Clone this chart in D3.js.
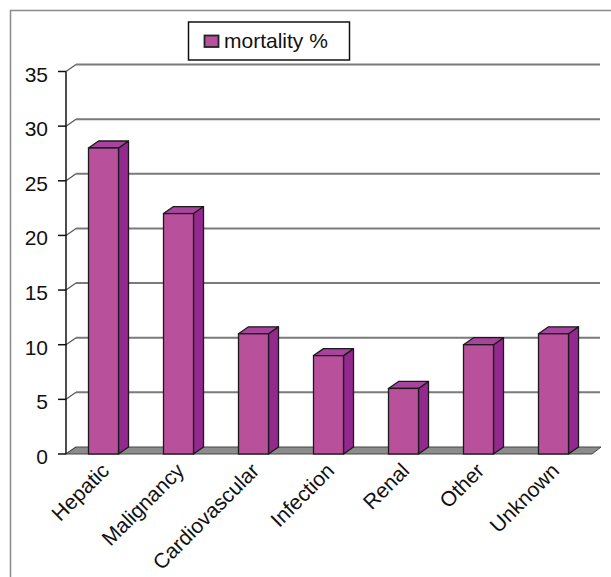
<!DOCTYPE html>
<html><head><meta charset="utf-8">
<script src="https://cdn.jsdelivr.net/npm/d3@7"></script>
<style>body{margin:0;background:#fff}svg{display:block}text{font-family:"Liberation Sans",Arial,sans-serif;fill:#111}</style>
</head><body>
<script>
const categories = ["Hepatic","Malignancy","Cardiovascular","Infection","Renal","Other","Unknown"];
const mortality = [28,22,11,9,6,10,11];
const yTicks = [0,5,10,15,20,25,30,35];
const seriesName = "mortality %";

const W=611,H=577;
const svg=d3.select("body").append("svg").attr("width",W).attr("height",H);
const DX=10, DY=-7;
const x=d3.scaleBand().domain(categories).range([66,591]).paddingInner(0.6).paddingOuter(0.3);
const y=d3.scaleLinear().domain([0,35]).range([454,71.5]);
const y0=y(0);

// outer frame
svg.append("path").attr("d","M10.5,577V10.5H611").attr("fill","none").attr("stroke","#8a8a8a").attr("stroke-width",1.5);

// gridlines + diagonal
yTicks.forEach(v=>{
  if(v>0){
    svg.append("line").attr("x1",66+DX).attr("x2",600).attr("y1",y(v)+DY).attr("y2",y(v)+DY)
      .attr("stroke","#7a7a7a").attr("stroke-width",2);
  }
  svg.append("line").attr("x1",66).attr("y1",y(v)).attr("x2",66+DX).attr("y2",y(v)+DY)
    .attr("stroke","#555").attr("stroke-width",1.2);
});

// floor
svg.append("polygon").attr("points",[[66,y0],[66+DX,y0+DY],[601,y0+DY],[592,y0]].join(" "))
  .attr("fill","#8c8c8c").attr("stroke","#444").attr("stroke-width",1);

// bars
const g=svg.append("g");
categories.forEach((c,i)=>{
  const bx=x(c),bw=x.bandwidth(),by=y(mortality[i]);
  g.append("polygon").attr("points",[[bx+bw,by],[bx+bw+DX,by+DY],[bx+bw+DX,y0+DY],[bx+bw,y0]].join(" "))
    .attr("fill","#93298f").attr("stroke","#1a1a1a").attr("stroke-width",1.3).attr("stroke-linejoin","round");
  g.append("polygon").attr("points",[[bx,by],[bx+DX,by+DY],[bx+bw+DX,by+DY],[bx+bw,by]].join(" "))
    .attr("fill","#a8449e").attr("stroke","#1a1a1a").attr("stroke-width",1.3).attr("stroke-linejoin","round");
  g.append("rect").attr("x",bx).attr("y",by).attr("width",bw).attr("height",y0-by)
    .attr("fill","#b8509c").attr("stroke","#1a1a1a").attr("stroke-width",1.3);
});

// axis
const axis=svg.append("g");
axis.append("line").attr("x1",66).attr("x2",66).attr("y1",y(35)).attr("y2",y0).attr("stroke","#111").attr("stroke-width",1.5);
yTicks.forEach(v=>{
  axis.append("line").attr("x1",58).attr("x2",66).attr("y1",y(v)).attr("y2",y(v)).attr("stroke","#111").attr("stroke-width",1.5);
  axis.append("text").attr("x",48).attr("y",y(v)+10).attr("text-anchor","end").attr("font-size",21).text(v);
});

// category labels
categories.forEach(c=>{
  const cx=x(c)+x.bandwidth()/2+7;
  svg.append("text").attr("transform",`translate(${cx},472) rotate(-45)`)
    .attr("text-anchor","end").attr("font-size",21).text(c);
});

// legend
svg.append("rect").attr("x",188.5).attr("y",22).attr("width",161).attr("height",38)
  .attr("fill","#fff").attr("stroke","#111").attr("stroke-width",1.5);
svg.append("rect").attr("x",204.5).attr("y",35.5).attr("width",14).attr("height",11.5)
  .attr("fill","#b8509c").attr("stroke","#222").attr("stroke-width",1.8);
svg.append("text").attr("x",224).attr("y",47.5).attr("font-size",21).text(seriesName);
</script>
</body></html>
